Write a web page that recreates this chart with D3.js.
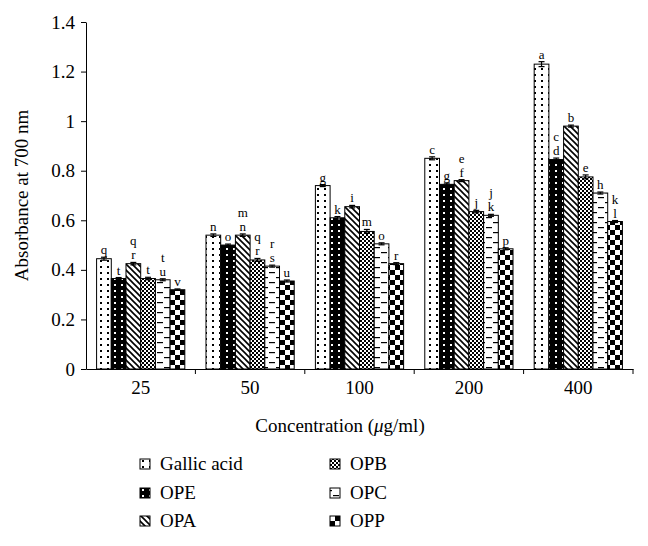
<!DOCTYPE html>
<html>
<head>
<meta charset="utf-8">
<script src="https://cdn.jsdelivr.net/npm/d3@7"></script>
<style>
  body { margin: 0; background: #fff; }
  text { font-family: "Liberation Serif", "DejaVu Serif", serif; fill: #000; }
</style>
</head>
<body>
<div id="chart"></div>
<script>
// data
var concentrations = ["25", "50", "100", "200", "400"];
var seriesNames = ["Gallic acid", "OPE", "OPA", "OPB", "OPC", "OPP"];

var gallicAcid = [0.445, 0.540, 0.740, 0.850, 1.230];
var ope        = [0.365, 0.500, 0.610, 0.745, 0.845];
var opa        = [0.425, 0.540, 0.655, 0.760, 0.980];
var opb        = [0.365, 0.440, 0.555, 0.635, 0.775];
var opc        = [0.360, 0.415, 0.505, 0.620, 0.710];
var opp        = [0.320, 0.355, 0.425, 0.485, 0.595];

var errGallic = [0.006, 0.005, 0.004, 0.006, 0.010];
var errOpe    = [0.004, 0.004, 0.005, 0.005, 0.006];
var errOpa    = [0.005, 0.005, 0.005, 0.004, 0.004];
var errOpb    = [0.005, 0.006, 0.008, 0.005, 0.008];
var errOpc    = [0.004, 0.004, 0.004, 0.004, 0.004];
var errOpp    = [0.003, 0.004, 0.004, 0.004, 0.004];

// significance letters, stacked top to bottom
var lettersGallic = ["q", "n", "g", "c", "a"];
var lettersOpe    = ["t", "o", "k", "g", "c d"];
var lettersOpa    = ["q r", "m n", "i", "e f", "b"];
var lettersOpb    = ["t", "q r", "m", "j", "e"];
var lettersOpc    = ["t u", "r s", "o", "j k", "h"];
var lettersOpp    = ["v", "u", "r", "p", "k l"];

var yTicks = [0, 0.2, 0.4, 0.6, 0.8, 1, 1.2, 1.4];

var values = [gallicAcid, ope, opa, opb, opc, opp];
var errors = [errGallic, errOpe, errOpa, errOpb, errOpc, errOpp];
var letters = [lettersGallic, lettersOpe, lettersOpa, lettersOpb, lettersOpc, lettersOpp];
var patternIds = ["pGallic", "pOpe", "pOpa", "pOpb", "pOpc", "pOpp"];

var W = 648, H = 546;
var margin = {top: 22, right: 15, bottom: 177, left: 86};

var svg = d3.select("#chart").append("svg")
  .attr("width", W)
  .attr("height", H);

// fill patterns
var defs = svg.append("defs");

function pat(id, w, h) {
  return defs.append("pattern")
    .attr("id", id)
    .attr("patternUnits", "userSpaceOnUse")
    .attr("width", w)
    .attr("height", h);
}

// white with black dots
var p1 = pat("pGallic", 7, 6);
p1.append("rect").attr("width", 7).attr("height", 6).attr("fill", "#fff");
p1.append("rect").attr("x", 2).attr("y", 2).attr("width", 2).attr("height", 2).attr("fill", "#000");

// black with white dots
var p2 = pat("pOpe", 7, 6);
p2.append("rect").attr("width", 7).attr("height", 6).attr("fill", "#000");
p2.append("rect").attr("x", 2).attr("y", 2).attr("width", 2).attr("height", 2).attr("fill", "#fff");

// diagonal hatch
var p3 = pat("pOpa", 6, 6);
p3.append("rect").attr("width", 6).attr("height", 6).attr("fill", "#fff");
p3.append("path").attr("d", "M-1,-1 L7,7 M-4,2 L1,7 M5,-1 L7,1")
  .attr("stroke", "#000").attr("stroke-width", 1.6);

// small checker
var p4 = pat("pOpb", 4, 4);
p4.append("rect").attr("width", 4).attr("height", 4).attr("fill", "#fff");
p4.append("rect").attr("width", 2).attr("height", 2).attr("fill", "#000");
p4.append("rect").attr("x", 2).attr("y", 2).attr("width", 2).attr("height", 2).attr("fill", "#000");

// horizontal dashes
var p5 = pat("pOpc", 14, 10);
p5.append("rect").attr("width", 14).attr("height", 10).attr("fill", "#fff");
p5.append("rect").attr("x", 3).attr("y", 2).attr("width", 6).attr("height", 1.2).attr("fill", "#000");
p5.append("rect").attr("x", 10).attr("y", 7).attr("width", 6).attr("height", 1.2).attr("fill", "#000");
p5.append("rect").attr("x", -4).attr("y", 7).attr("width", 6).attr("height", 1.2).attr("fill", "#000");

// big checker
var p6 = pat("pOpp", 10, 10);
p6.append("rect").attr("width", 10).attr("height", 10).attr("fill", "#fff");
p6.append("rect").attr("width", 5).attr("height", 5).attr("fill", "#000");
p6.append("rect").attr("x", 5).attr("y", 5).attr("width", 5).attr("height", 5).attr("fill", "#000");

// scales
var x0 = d3.scaleBand()
  .domain(concentrations)
  .range([margin.left, W - margin.right]);

var x1 = d3.scaleBand()
  .domain(seriesNames)
  .range([0, x0.bandwidth()])
  .paddingOuter(0.72);

var y = d3.scaleLinear()
  .domain([0, 1.4])
  .range([H - margin.bottom, margin.top]);

// bars
var rows = [];
concentrations.forEach(function (c, i) {
  seriesNames.forEach(function (s, j) {
    rows.push({c: c, s: s, j: j, v: values[j][i], e: errors[j][i], l: letters[j][i]});
  });
});

var g = svg.append("g");

g.selectAll("rect.bar")
  .data(rows)
  .enter().append("rect")
  .attr("class", "bar")
  .attr("x", d => x0(d.c) + x1(d.s))
  .attr("y", d => y(d.v))
  .attr("width", x1.bandwidth())
  .attr("height", d => y(0) - y(d.v))
  .attr("fill", d => "url(#" + patternIds[d.j] + ")")
  .attr("stroke", "#000")
  .attr("stroke-width", 1);

// error bars
var cap = 3;
var eb = g.selectAll("g.err")
  .data(rows)
  .enter().append("g")
  .attr("class", "err")
  .attr("stroke", "#000")
  .attr("stroke-width", 1.2);

eb.append("line")
  .attr("x1", d => x0(d.c) + x1(d.s) + x1.bandwidth() / 2)
  .attr("x2", d => x0(d.c) + x1(d.s) + x1.bandwidth() / 2)
  .attr("y1", d => y(d.v - d.e))
  .attr("y2", d => y(d.v + d.e));
eb.append("line")
  .attr("x1", d => x0(d.c) + x1(d.s) + x1.bandwidth() / 2 - cap)
  .attr("x2", d => x0(d.c) + x1(d.s) + x1.bandwidth() / 2 + cap)
  .attr("y1", d => y(d.v + d.e))
  .attr("y2", d => y(d.v + d.e));
eb.append("line")
  .attr("x1", d => x0(d.c) + x1(d.s) + x1.bandwidth() / 2 - cap)
  .attr("x2", d => x0(d.c) + x1(d.s) + x1.bandwidth() / 2 + cap)
  .attr("y1", d => y(d.v - d.e))
  .attr("y2", d => y(d.v - d.e));

// letters above bars
var lt = g.selectAll("text.letter")
  .data(rows)
  .enter().append("text")
  .attr("class", "letter")
  .attr("text-anchor", "middle")
  .style("font-size", "13px")
  .attr("x", d => x0(d.c) + x1(d.s) + x1.bandwidth() / 2)
  .attr("y", d => y(d.v + d.e) - 3);

lt.each(function (d) {
  var parts = d.l.split(" ");
  var t = d3.select(this);
  parts.forEach(function (p, k) {
    t.append("tspan")
      .attr("x", t.attr("x"))
      .attr("dy", k === 0 ? -(parts.length - 1) * 14 : 14)
      .text(p);
  });
});

// y axis
var yAxis = svg.append("g")
  .attr("transform", "translate(" + margin.left + ",0)")
  .call(d3.axisLeft(y)
    .tickValues(yTicks)
    .tickFormat(d => String(+d.toFixed(1)))
    .tickSize(5)
    .tickSizeOuter(0)
    .tickPadding(6));
yAxis.selectAll("text").style("font-size", "19px");

svg.append("text")
  .attr("transform", "translate(28," + ((y(0) + y(1.4)) / 2) + ") rotate(-90)")
  .attr("text-anchor", "middle")
  .style("font-size", "19px")
  .text("Absorbance at 700 nm");

// x axis
var xAxis = svg.append("g")
  .attr("transform", "translate(0," + y(0) + ")")
  .call(d3.axisBottom(x0).tickSize(0).tickSizeOuter(0).tickPadding(12));
xAxis.selectAll("text").style("font-size", "19px");

xAxis.selectAll("line.sep")
  .data(concentrations)
  .enter().append("line")
  .attr("class", "sep")
  .attr("x1", d => x0(d) + x0.bandwidth())
  .attr("x2", d => x0(d) + x0.bandwidth())
  .attr("y1", 0)
  .attr("y2", 5)
  .attr("stroke", "#000");

svg.append("text")
  .attr("x", 340)
  .attr("y", y(0) + 63)
  .attr("text-anchor", "middle")
  .style("font-size", "19px")
  .html("Concentration (<tspan font-style='italic'>μ</tspan>g/ml)");

// legend
var legend = svg.append("g");
var legX = [140, 330], legY = [464, 493, 521];

var li = legend.selectAll("g")
  .data(seriesNames)
  .enter().append("g")
  .attr("transform", (d, i) => "translate(" + legX[Math.floor(i / 3)] + "," + legY[i % 3] + ")");

li.append("rect")
  .attr("x", 0).attr("y", -5)
  .attr("width", 10).attr("height", 10)
  .attr("fill", (d, i) => "url(#" + patternIds[i] + ")")
  .attr("stroke", "#000");

li.append("text")
  .attr("x", 20)
  .attr("y", 6)
  .style("font-size", "19px")
  .text(d => d);
</script>
</body>
</html>
